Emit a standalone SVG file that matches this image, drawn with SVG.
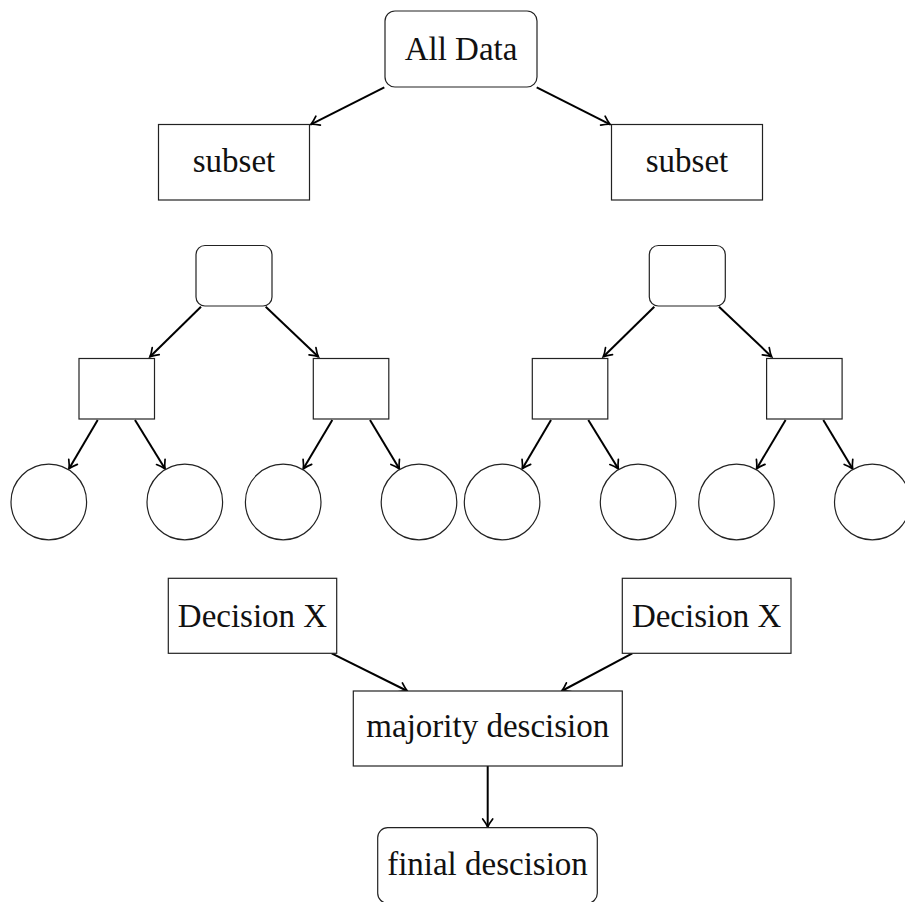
<svg xmlns="http://www.w3.org/2000/svg" width="905" height="902" viewBox="0 0 905 902">
<defs>
<marker id="arr" markerUnits="userSpaceOnUse" markerWidth="20" markerHeight="20" refX="0" refY="0" orient="auto" overflow="visible">
<path d="M -8 -5 Q -3 -1.2 0 0 Q -3 1.2 -8 5" fill="none" stroke="#000" stroke-width="1.7" stroke-linecap="round"/>
</marker>
</defs>
<style>
.box{fill:#fff;stroke:#222;stroke-width:1.2}
.circ{fill:#fff;stroke:#222;stroke-width:1.2}
.lbl{font-family:"Liberation Serif","DejaVu Serif",serif;font-size:33px;fill:#111;text-anchor:middle}
.edge{stroke:#000;stroke-width:2;fill:none;marker-end:url(#arr)}
</style>
<rect width="905" height="902" fill="#fff"/>
<g id="connectors">
<line class="edge" x1="384.3" y1="87.3" x2="311" y2="124.3"/>
<line class="edge" x1="536.7" y1="87.3" x2="610" y2="124.3"/>
<line class="edge" x1="201" y1="306.7" x2="150" y2="356.7"/>
<line class="edge" x1="265.7" y1="306.7" x2="318.3" y2="356.7"/>
<line class="edge" x1="97.7" y1="420" x2="69" y2="468.7"/>
<line class="edge" x1="135" y1="420" x2="165" y2="468.7"/>
<line class="edge" x1="332.3" y1="420" x2="303.3" y2="468.7"/>
<line class="edge" x1="370" y1="420" x2="399.3" y2="468.7"/>
<line class="edge" x1="654.3" y1="306.7" x2="603.3" y2="356.7"/>
<line class="edge" x1="719" y1="306.7" x2="771.6" y2="356.7"/>
<line class="edge" x1="551" y1="420" x2="522.3" y2="468.7"/>
<line class="edge" x1="588.3" y1="420" x2="618.3" y2="468.7"/>
<line class="edge" x1="785.6" y1="420" x2="756.6" y2="468.7"/>
<line class="edge" x1="823.3" y1="420" x2="852.6" y2="468.7"/>
<line class="edge" x1="331.7" y1="653.3" x2="407.3" y2="691"/>
<line class="edge" x1="632.3" y1="653.3" x2="561.7" y2="691"/>
<line class="edge" x1="487.7" y1="766" x2="487.7" y2="827"/>
</g>
<g id="alldata"><rect class="box" x="385" y="11" width="152" height="76" rx="10"/><text class="lbl" x="461" y="60">All Data</text></g>
<g id="subset-left"><rect class="box" x="158.5" y="124.5" width="151" height="75.5"/><text class="lbl" x="234" y="171.5">subset</text></g>
<g id="subset-right"><rect class="box" x="611.5" y="124.5" width="151" height="75.5"/><text class="lbl" x="687" y="171.5">subset</text></g>
<g id="tree1-root"><rect class="box" x="196" y="245.5" width="76" height="60.5" rx="9"/></g>
<g id="tree1-l"><rect class="box" x="79" y="358.5" width="75.5" height="60.5"/></g>
<g id="tree1-r"><rect class="box" x="313.3" y="358.5" width="75.5" height="60.5"/></g>
<g id="tree1-c1"><circle class="circ" cx="48.8" cy="502" r="37.8"/></g>
<g id="tree1-c2"><circle class="circ" cx="184.8" cy="502" r="37.8"/></g>
<g id="tree1-c3"><circle class="circ" cx="283.2" cy="502" r="37.8"/></g>
<g id="tree1-c4"><circle class="circ" cx="419" cy="502" r="37.8"/></g>
<g id="tree2-root"><rect class="box" x="649.3" y="245.5" width="76" height="60.5" rx="9"/></g>
<g id="tree2-l"><rect class="box" x="532.3" y="358.5" width="75.5" height="60.5"/></g>
<g id="tree2-r"><rect class="box" x="766.6" y="358.5" width="75.5" height="60.5"/></g>
<g id="tree2-c1"><circle class="circ" cx="502.1" cy="502" r="37.8"/></g>
<g id="tree2-c2"><circle class="circ" cx="638.1" cy="502" r="37.8"/></g>
<g id="tree2-c3"><circle class="circ" cx="736.5" cy="502" r="37.8"/></g>
<g id="tree2-c4"><circle class="circ" cx="872.3" cy="502" r="37.8"/></g>
<g id="decision-left"><rect class="box" x="168.3" y="578.3" width="168.4" height="75"/><text class="lbl" x="252.5" y="627.3">Decision X</text></g>
<g id="decision-right"><rect class="box" x="622.3" y="578.3" width="168.7" height="75"/><text class="lbl" x="706.6" y="627.3">Decision X</text></g>
<g id="majority"><rect class="box" x="353.3" y="691" width="269" height="75"/><text class="lbl" x="487.8" y="737">majority descision</text></g>
<g id="final"><rect class="box" x="377.7" y="827.7" width="219.6" height="75.5" rx="10"/><text class="lbl" x="487.5" y="875">finial descision</text></g>
</svg>
